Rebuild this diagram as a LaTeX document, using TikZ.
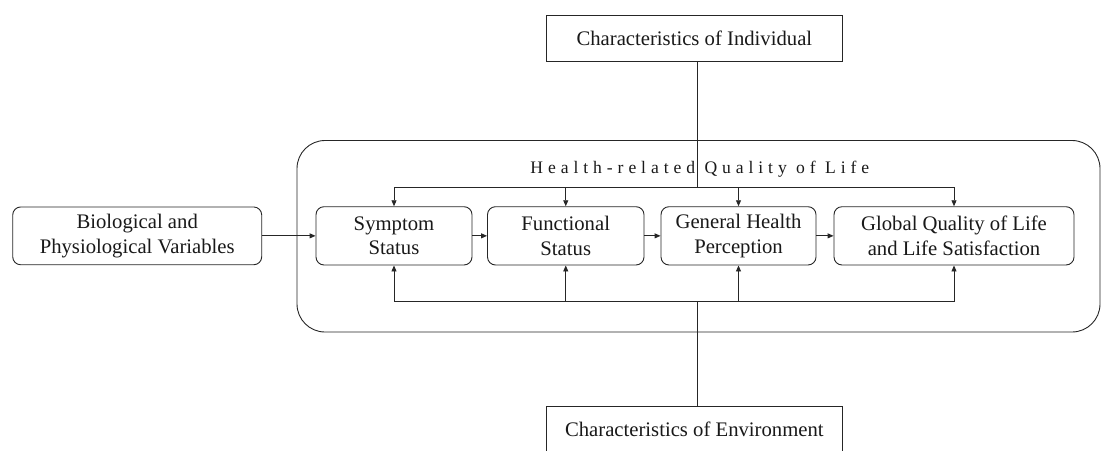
\documentclass[tikz,border=0pt]{standalone}
\usepackage{fontspec}
\setmainfont{Liberation Serif}
\usetikzlibrary{arrows.meta}
\begin{document}
\begin{tikzpicture}[x=1pt,y=-1pt,
  box/.style={draw=black!85, line width=0.9pt, fill=white, align=center, inner sep=0pt,
    font=\fontsize{20.7}{24.5}\selectfont, text=black!90},
  rbox/.style={box, rounded corners=8pt},
  arr/.style={draw=black!85, line width=0.9pt, -{Triangle[length=6pt,width=5pt]}},
  ln/.style={draw=black!85, line width=0.9pt}]
\useasboundingbox (0,0) rectangle (1102,450);
\clip (0,0) rectangle (1102,450);
% container
\node[draw=black!85, line width=0.9pt, rounded corners=28pt, minimum width=803pt,
  minimum height=191.5pt, inner sep=0pt] (hrql) at (698.5,236.25) {};
\node[anchor=base, inner sep=0pt, font=\fontsize{17.6}{20}\selectfont, text=black!90] (title)
  at (699.8,173) {\addfontfeatures{LetterSpace=28}Health-related Quality of Life};
% outer boxes
\node[box, minimum width=295.3pt, minimum height=46pt] (indiv) at (694.35,38) {Characteristics of Individual};
\node[box, minimum width=295.3pt, minimum height=46pt] (env) at (694.35,429) {Characteristics of Environment};
% row
\node[rbox, minimum width=249pt, minimum height=57.8pt] (bio) at (137.2,235.85) {Biological and\\Physiological Variables};
\node[rbox, minimum width=156pt, minimum height=58.3pt] (sym) at (394,235.85) {Symptom\\Status};
\node[rbox, minimum width=156.5pt, minimum height=58.3pt] (fun) at (565.75,235.85) {Functional\\Status};
\node[rbox, minimum width=155pt, minimum height=58.3pt] (gen) at (738.5,235.85) {General Health\\Perception};
\node[rbox, minimum width=240pt, minimum height=58.3pt] (glo) at (954,235.85) {Global Quality of Life\\and Life Satisfaction};
% junctions
\coordinate (tj) at (697,187);
\coordinate (bj) at (697,301.7);
\draw[ln] (indiv.south -| tj) -- (tj);
\draw[ln] (sym.north |- tj) -- (glo.north |- tj);
\foreach \n in {sym,fun,gen,glo} \draw[arr] (\n.north |- tj) -- (\n.north);
\draw[ln] (bj) -- (env.north -| bj);
\draw[ln] (sym.south |- bj) -- (glo.south |- bj);
\foreach \n in {sym,fun,gen,glo} \draw[arr] (\n.south |- bj) -- (\n.south);
% row arrows
\draw[arr] (bio) -- (sym);
\draw[arr] (sym) -- (fun);
\draw[arr] (fun) -- (gen);
\draw[arr] (gen) -- (glo);
\end{tikzpicture}
\end{document}
